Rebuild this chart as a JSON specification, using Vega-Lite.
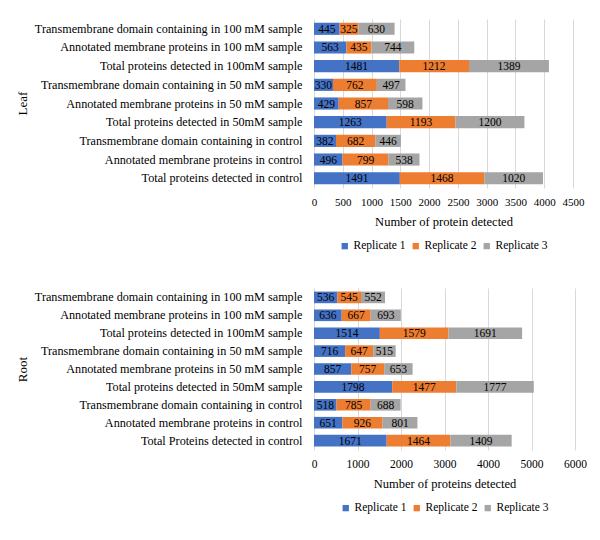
{
  "$schema": "https://vega.github.io/schema/vega-lite/v6.json",
  "padding": {"left": 16, "top": 19, "right": 10, "bottom": 5},
  "background": "white",
  "spacing": 36,
  "datasets": {
    "leafData": [
      {"cat": "Transmembrane domain containing in 100 mM sample", "o": 1, "rep": "Replicate 1", "value": 445},
      {"cat": "Transmembrane domain containing in 100 mM sample", "o": 1, "rep": "Replicate 2", "value": 325},
      {"cat": "Transmembrane domain containing in 100 mM sample", "o": 1, "rep": "Replicate 3", "value": 630},
      {"cat": "Annotated membrane proteins in 100 mM sample", "o": 2, "rep": "Replicate 1", "value": 563},
      {"cat": "Annotated membrane proteins in 100 mM sample", "o": 2, "rep": "Replicate 2", "value": 435},
      {"cat": "Annotated membrane proteins in 100 mM sample", "o": 2, "rep": "Replicate 3", "value": 744},
      {"cat": "Total proteins detected  in 100mM sample", "o": 3, "rep": "Replicate 1", "value": 1481},
      {"cat": "Total proteins detected  in 100mM sample", "o": 3, "rep": "Replicate 2", "value": 1212},
      {"cat": "Total proteins detected  in 100mM sample", "o": 3, "rep": "Replicate 3", "value": 1389},
      {"cat": "Transmembrane domain containing in 50 mM sample", "o": 4, "rep": "Replicate 1", "value": 330},
      {"cat": "Transmembrane domain containing in 50 mM sample", "o": 4, "rep": "Replicate 2", "value": 762},
      {"cat": "Transmembrane domain containing in 50 mM sample", "o": 4, "rep": "Replicate 3", "value": 497},
      {"cat": "Annotated membrane proteins in 50 mM sample", "o": 5, "rep": "Replicate 1", "value": 429},
      {"cat": "Annotated membrane proteins in 50 mM sample", "o": 5, "rep": "Replicate 2", "value": 857},
      {"cat": "Annotated membrane proteins in 50 mM sample", "o": 5, "rep": "Replicate 3", "value": 598},
      {"cat": "Total proteins detected in 50mM sample", "o": 6, "rep": "Replicate 1", "value": 1263},
      {"cat": "Total proteins detected in 50mM sample", "o": 6, "rep": "Replicate 2", "value": 1193},
      {"cat": "Total proteins detected in 50mM sample", "o": 6, "rep": "Replicate 3", "value": 1200},
      {"cat": "Transmembrane domain containing in control", "o": 7, "rep": "Replicate 1", "value": 382},
      {"cat": "Transmembrane domain containing in control", "o": 7, "rep": "Replicate 2", "value": 682},
      {"cat": "Transmembrane domain containing in control", "o": 7, "rep": "Replicate 3", "value": 446},
      {"cat": "Annotated membrane proteins in control", "o": 8, "rep": "Replicate 1", "value": 496},
      {"cat": "Annotated membrane proteins in control", "o": 8, "rep": "Replicate 2", "value": 799},
      {"cat": "Annotated membrane proteins in control", "o": 8, "rep": "Replicate 3", "value": 538},
      {"cat": "Total proteins detected in control", "o": 9, "rep": "Replicate 1", "value": 1491},
      {"cat": "Total proteins detected in control", "o": 9, "rep": "Replicate 2", "value": 1468},
      {"cat": "Total proteins detected in control", "o": 9, "rep": "Replicate 3", "value": 1020}
    ],
    "rootData": [
      {"cat": "Transmembrane domain containing in 100 mM sample", "o": 1, "rep": "Replicate 1", "value": 536},
      {"cat": "Transmembrane domain containing in 100 mM sample", "o": 1, "rep": "Replicate 2", "value": 545},
      {"cat": "Transmembrane domain containing in 100 mM sample", "o": 1, "rep": "Replicate 3", "value": 552},
      {"cat": "Annotated membrane proteins in 100 mM sample", "o": 2, "rep": "Replicate 1", "value": 636},
      {"cat": "Annotated membrane proteins in 100 mM sample", "o": 2, "rep": "Replicate 2", "value": 667},
      {"cat": "Annotated membrane proteins in 100 mM sample", "o": 2, "rep": "Replicate 3", "value": 693},
      {"cat": "Total proteins detected  in 100mM sample", "o": 3, "rep": "Replicate 1", "value": 1514},
      {"cat": "Total proteins detected  in 100mM sample", "o": 3, "rep": "Replicate 2", "value": 1579},
      {"cat": "Total proteins detected  in 100mM sample", "o": 3, "rep": "Replicate 3", "value": 1691},
      {"cat": "Transmembrane domain containing in 50 mM sample", "o": 4, "rep": "Replicate 1", "value": 716},
      {"cat": "Transmembrane domain containing in 50 mM sample", "o": 4, "rep": "Replicate 2", "value": 647},
      {"cat": "Transmembrane domain containing in 50 mM sample", "o": 4, "rep": "Replicate 3", "value": 515},
      {"cat": "Annotated membrane proteins in 50 mM sample", "o": 5, "rep": "Replicate 1", "value": 857},
      {"cat": "Annotated membrane proteins in 50 mM sample", "o": 5, "rep": "Replicate 2", "value": 757},
      {"cat": "Annotated membrane proteins in 50 mM sample", "o": 5, "rep": "Replicate 3", "value": 653},
      {"cat": "Total proteins detected in 50mM sample", "o": 6, "rep": "Replicate 1", "value": 1798},
      {"cat": "Total proteins detected in 50mM sample", "o": 6, "rep": "Replicate 2", "value": 1477},
      {"cat": "Total proteins detected in 50mM sample", "o": 6, "rep": "Replicate 3", "value": 1777},
      {"cat": "Transmembrane domain containing in control", "o": 7, "rep": "Replicate 1", "value": 518},
      {"cat": "Transmembrane domain containing in control", "o": 7, "rep": "Replicate 2", "value": 785},
      {"cat": "Transmembrane domain containing in control", "o": 7, "rep": "Replicate 3", "value": 688},
      {"cat": "Annotated membrane proteins in control", "o": 8, "rep": "Replicate 1", "value": 651},
      {"cat": "Annotated membrane proteins in control", "o": 8, "rep": "Replicate 2", "value": 926},
      {"cat": "Annotated membrane proteins in control", "o": 8, "rep": "Replicate 3", "value": 801},
      {"cat": "Total Proteins detected in control", "o": 9, "rep": "Replicate 1", "value": 1671},
      {"cat": "Total Proteins detected in control", "o": 9, "rep": "Replicate 2", "value": 1464},
      {"cat": "Total Proteins detected in control", "o": 9, "rep": "Replicate 3", "value": 1409}
    ]
  },
  "config": {
    "font": "Liberation Serif",
    "view": {"stroke": null},
    "axis": {"labelFont": "Liberation Serif", "titleFont": "Liberation Serif", "labelColor": "#000", "titleColor": "#000", "titleFontWeight": "normal"},
    "legend": {"labelFont": "Liberation Serif", "labelColor": "#000", "layout": {"bottom": {"anchor": "middle"}}}
  },
  "vconcat": [
    {
      "width": 259,
      "height": 169,
      "data": {"name": "leafData"},
      "encoding": {
        "y": {"field": "cat", "type": "nominal", "sort": {"field": "o"},
          "scale": {"paddingInner": 0.35, "paddingOuter": 0.2},
          "axis": {"title": "Leaf", "titleFontSize": 13, "labelFontSize": 12.2, "labelPadding": 12, "ticks": false, "domain": false, "labelLimit": 400, "titleX": -292, "titleY": 84, "titleAlign": "center", "titleBaseline": "middle"}},
        "x": {"field": "value", "type": "quantitative", "stack": "zero", "scale": {"domain": [0, 4500]},
          "axis": {"title": "Number of protein detected", "values": [0,500,1000,1500,2000,2500,3000,3500,4000,4500], "format": "d", "labelOverlap": false, "labelFlush": false, "labelFontSize": 11, "titleFontSize": 12.5, "domain": false, "ticks": false, "gridColor": "#d9d9d9", "labelPadding": 8, "titlePadding": 8}},
        "order": {"field": "rep", "sort": "ascending"}
      },
      "layer": [
        {
          "mark": {"type": "bar"},
          "encoding": {
            "color": {"field": "rep", "type": "nominal",
              "scale": {"domain": ["Replicate 1", "Replicate 2", "Replicate 3"], "range": ["#4472c4", "#ed7d31", "#a5a5a5"]},
              "legend": {"title": null, "orient": "bottom", "direction": "horizontal", "symbolType": "square", "symbolSize": 40, "labelFontSize": 11.5, "labelOffset": 3, "columnPadding": 4, "offset": 12}}
          }
        },
        {
          "mark": {"type": "text", "fontSize": 11.5, "color": "#000", "baseline": "middle", "dy": 1},
          "encoding": {
            "x": {"field": "value", "type": "quantitative", "stack": "zero", "bandPosition": 0.5},
            "detail": {"field": "rep"},
            "text": {"field": "value", "type": "quantitative"}
          }
        }
      ]
    },
    {
      "width": 261,
      "height": 162,
      "data": {"name": "rootData"},
      "encoding": {
        "y": {"field": "cat", "type": "nominal", "sort": {"field": "o"},
          "scale": {"paddingInner": 0.35, "paddingOuter": 0.2},
          "axis": {"title": "Root", "titleFontSize": 13, "labelFontSize": 12.2, "labelPadding": 12, "ticks": false, "domain": false, "labelLimit": 400, "titleX": -292, "titleY": 81, "titleAlign": "center", "titleBaseline": "middle"}},
        "x": {"field": "value", "type": "quantitative", "stack": "zero", "scale": {"domain": [0, 6000]},
          "axis": {"title": "Number of proteins detected", "values": [0,1000,2000,3000,4000,5000,6000], "format": "d", "labelOverlap": false, "labelFlush": false, "labelFontSize": 11.5, "titleFontSize": 12.5, "domain": false, "ticks": false, "gridColor": "#d9d9d9", "labelPadding": 8, "titlePadding": 8}},
        "order": {"field": "rep", "sort": "ascending"}
      },
      "layer": [
        {
          "mark": {"type": "bar"},
          "encoding": {
            "color": {"field": "rep", "type": "nominal",
              "scale": {"domain": ["Replicate 1", "Replicate 2", "Replicate 3"], "range": ["#4472c4", "#ed7d31", "#a5a5a5"]},
              "legend": {"title": null, "orient": "bottom", "direction": "horizontal", "symbolType": "square", "symbolSize": 40, "labelFontSize": 11.5, "labelOffset": 3, "columnPadding": 4, "offset": 12}}
          }
        },
        {
          "mark": {"type": "text", "fontSize": 11.5, "color": "#000", "baseline": "middle", "dy": 1},
          "encoding": {
            "x": {"field": "value", "type": "quantitative", "stack": "zero", "bandPosition": 0.5},
            "detail": {"field": "rep"},
            "text": {"field": "value", "type": "quantitative"}
          }
        }
      ]
    }
  ],
  "resolve": {"scale": {"color": "independent"}, "legend": {"color": "independent"}}
}
